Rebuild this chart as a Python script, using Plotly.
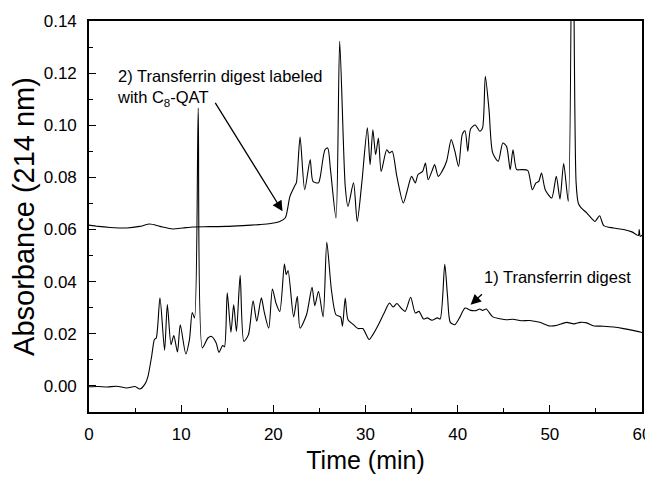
import plotly.graph_objects as go

# Trace 1: Transferrin digest (lower)
t1 = [0.0, 1.0, 2.0, 3.0, 4.1, 5.0, 5.5, 6.1, 6.4, 6.8, 7.1, 7.3, 7.7, 8.2, 8.5, 8.9, 9.2, 9.6, 9.9,
      10.5, 10.9, 11.2, 11.45, 11.85, 12.3, 12.9, 13.3, 13.8, 14.1, 14.5, 14.7, 15.0, 15.4, 15.7, 16.0,
      16.4, 16.8, 17.3, 17.8, 18.2, 18.7, 19.0, 19.5, 19.9, 20.3, 20.7, 21.2, 21.4, 21.6, 22.2, 22.6,
      22.9, 23.6, 24.2, 24.5, 24.9, 25.4, 25.8, 26.3, 26.8, 27.3, 27.5, 27.8, 28.1, 28.7, 29.2, 29.7,
      30.4, 30.8, 31.4, 32.1, 32.6, 33.0, 33.4, 33.9, 34.3, 34.9, 35.4, 35.8, 36.3, 36.7, 37.2, 37.8,
      38.1, 38.6, 38.9, 39.2, 39.7, 40.2, 40.8, 41.4, 42.0, 42.4, 42.7, 43.1, 43.8, 44.6, 45.3, 46.0,
      46.9, 47.8, 48.9, 50.0, 50.8, 51.8, 52.6, 53.3, 54.0, 54.7, 55.8, 56.9, 58.0, 59.0, 60.0]
v1 = [-0.0003, -0.0002, -0.0004, -0.0001, -0.0008, -0.0002, -0.0012, 0.0009, 0.0037, 0.0114, 0.0178,
      0.0184, 0.0338, 0.0137, 0.0312, 0.0158, 0.0193, 0.0130, 0.0235, 0.0123, 0.0178, 0.0282, 0.0261,
      0.1066, 0.0146, 0.0184, 0.0190, 0.0165, 0.0129, 0.0155, 0.0150, 0.0357, 0.0206, 0.0312, 0.0209,
      0.0424, 0.0171, 0.0197, 0.0327, 0.0248, 0.0338, 0.0286, 0.0222, 0.0372, 0.0316, 0.0286, 0.0468,
      0.0427, 0.0443, 0.0265, 0.0344, 0.0222, 0.0273, 0.0378, 0.0308, 0.0363, 0.0265, 0.0552, 0.0369,
      0.0273, 0.0265, 0.0229, 0.0337, 0.0254, 0.0235, 0.0220, 0.0220, 0.0178, 0.0197, 0.0235, 0.0286,
      0.0318, 0.0303, 0.0316, 0.0297, 0.0286, 0.0340, 0.0280, 0.0286, 0.0257, 0.0261, 0.0252, 0.0261,
      0.0257, 0.0467, 0.0344, 0.0244, 0.0235, 0.0261, 0.0299, 0.0290, 0.0289, 0.0295, 0.0290, 0.0295,
      0.0265, 0.0258, 0.0254, 0.0256, 0.0250, 0.0251, 0.0244, 0.0230, 0.0233, 0.0244, 0.0238, 0.0244,
      0.0242, 0.0231, 0.0229, 0.0226, 0.0220, 0.0213, 0.0205]

# Trace 2: Transferrin digest labeled with C8-QAT (upper)
t2 = [0.0, 1.0, 2.3, 4.1, 5.5, 6.6, 7.7, 9.1, 10.2, 11.3, 13.0, 14.9, 16.7, 18.5, 19.7, 20.7, 21.3,
      21.8, 22.3, 22.5, 22.9, 23.4, 24.0, 24.3, 24.9, 25.1, 25.6, 25.9, 26.2, 26.8, 27.2, 27.8, 28.1,
      28.7, 29.1, 29.6, 30.2, 30.5, 30.8, 31.1, 31.4, 31.7, 32.3, 32.6, 32.9, 33.4, 34.1, 34.5, 35.0,
      35.4, 35.7, 36.2, 36.5, 36.8, 37.2, 37.5, 37.9, 38.3, 38.8, 39.3, 39.7, 40.1, 40.5, 40.8, 41.1,
      41.4, 41.9, 42.4, 42.7, 43.0, 43.4, 43.8, 44.4, 44.9, 45.3, 45.7, 46.0, 46.4, 46.9, 47.6, 48.1,
      48.5, 48.8, 49.1, 49.5, 50.2, 50.7, 51.1, 51.5, 52.0, 52.45, 52.85, 53.1, 53.4, 54.0, 54.6, 54.9,
      55.4, 55.85, 56.9, 58.0, 58.9, 59.6, 59.7, 59.8, 60.0]
v2 = [0.0617, 0.0612, 0.0608, 0.0606, 0.0612, 0.0621, 0.0612, 0.0602, 0.0606, 0.0610, 0.0611, 0.0612,
      0.0615, 0.0619, 0.0623, 0.0631, 0.0645, 0.0727, 0.0766, 0.0780, 0.0955, 0.0753, 0.0868, 0.0785,
      0.0779, 0.0804, 0.0906, 0.0913, 0.0830, 0.0644, 0.1322, 0.0766, 0.0689, 0.0779, 0.0631, 0.0779,
      0.0990, 0.0849, 0.0983, 0.0887, 0.0951, 0.0823, 0.0906, 0.0894, 0.0900, 0.0804, 0.0702, 0.0746,
      0.0804, 0.0779, 0.0811, 0.0823, 0.0855, 0.0791, 0.0823, 0.0849, 0.0804, 0.0823, 0.0862, 0.0945,
      0.0900, 0.0842, 0.0965, 0.0979, 0.0900, 0.0986, 0.1001, 0.0977, 0.0990, 0.1188, 0.1060, 0.0894,
      0.0862, 0.0932, 0.0919, 0.0830, 0.0906, 0.0830, 0.0830, 0.0827, 0.0753, 0.0779, 0.0785, 0.0817,
      0.0753, 0.0721, 0.0804, 0.0717, 0.0853, 0.0708, 0.2200, 0.0780, 0.0700, 0.0683, 0.0664, 0.0640,
      0.0631, 0.0653, 0.0615, 0.0606, 0.0600, 0.0591, 0.0577, 0.0600, 0.0574, 0.0578]

x_ticks = [0, 10, 20, 30, 40, 50, 60]
y_ticks = [0.00, 0.02, 0.04, 0.06, 0.08, 0.10, 0.12, 0.14]

label1 = "1) Transferrin digest"
label2 = "2) Transferrin digest labeled<br>with C<sub>8</sub>-QAT"

FONT = "Liberation Sans, Arial, sans-serif"

fig = go.Figure()
fig.add_trace(go.Scatter(x=t1, y=v1, mode="lines",
                         line=dict(color="black", width=1.1, shape="spline", smoothing=0.7),
                         showlegend=False))
fig.add_trace(go.Scatter(x=t2, y=v2, mode="lines",
                         line=dict(color="black", width=1.1, shape="spline", smoothing=0.7),
                         showlegend=False))

axis_common = dict(showline=True, linecolor="black", linewidth=1.6, mirror=True,
                   ticks="inside", ticklen=7, tickwidth=1.3, tickcolor="black",
                   showgrid=False, zeroline=False, automargin=False,
                   tickfont=dict(family=FONT, size=17, color="black"))

fig.update_xaxes(range=[0, 60], tickvals=x_ticks,
                 minor=dict(ticks="inside", ticklen=4, dtick=5, tickcolor="black", tickwidth=1.2),
                 title=dict(text="Time (min)", font=dict(family=FONT, size=25, color="black"),
                            standoff=8),
                 ticklabelstandoff=6, **axis_common)
fig.update_yaxes(range=[-0.01, 0.14], tickvals=y_ticks, tickformat=".2f",
                 minor=dict(ticks="inside", ticklen=4, dtick=0.01, tickcolor="black", tickwidth=1.2),
                 title=dict(text="Absorbance (214 nm)", font=dict(family=FONT, size=29, color="black"),
                            standoff=4),
                 ticklabelstandoff=7, **axis_common)

# text labels
fig.add_annotation(x=2.8, y=0.1144, xref="x", yref="y", text=label2, showarrow=False,
                   xanchor="left", yanchor="middle", align="left",
                   font=dict(family=FONT, size=16.5, color="black"))
fig.add_annotation(x=42.6, y=0.0419, xref="x", yref="y", text=label1, showarrow=False,
                   xanchor="left", yanchor="middle", align="left",
                   font=dict(family=FONT, size=16.5, color="black"))
# arrows
fig.add_annotation(x=21.0, y=0.0670, ax=13.6, ay=0.1092, xref="x", yref="y", axref="x", ayref="y",
                   text="", showarrow=True, arrowhead=2, arrowsize=1.6, arrowwidth=1.3,
                   arrowcolor="black")
fig.add_annotation(x=41.4, y=0.0311, ax=42.8, ay=0.0357, xref="x", yref="y", axref="x", ayref="y",
                   text="", showarrow=True, arrowhead=2, arrowsize=1.6, arrowwidth=1.3,
                   arrowcolor="black")

# page body adds an 8px offset; figure sized to the remaining visible area
fig.update_layout(width=645, height=469, margin=dict(l=81, r=11, t=13, b=65, autoexpand=False),
                  plot_bgcolor="white", paper_bgcolor="white",
                  font=dict(family=FONT, color="black"))

fig.write_html("out.html")
